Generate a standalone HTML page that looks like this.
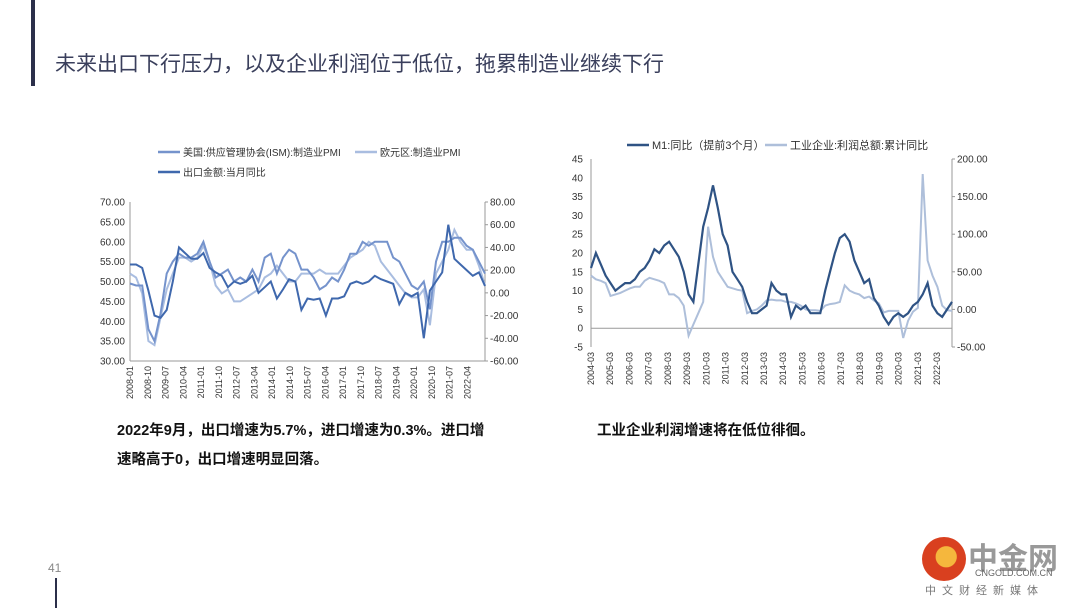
<!DOCTYPE html>
<html><head><meta charset="utf-8">
<style>
body{margin:0;width:1080px;height:608px;background:#fff;position:relative;overflow:hidden;font-family:"Liberation Sans","Noto Sans CJK SC",sans-serif}
.abs{position:absolute}
</style></head><body>
<div class="abs" style="left:31px;top:0;width:4px;height:86px;background:#2b2f4a"></div>
<div class="abs" style="left:55px;top:48px;font-size:21px;color:#3a3f5c;white-space:nowrap">未来出口下行压力，以及企业利润位于低位，拖累制造业继续下行</div>
<div class="abs" style="left:117px;top:417px;width:372px;font-size:14.5px;font-weight:bold;line-height:29px;color:#111">2022年9月，出口增速为5.7%，进口增速为0.3%。进口增速略高于0，出口增速明显回落。</div>
<div class="abs" style="left:597px;top:417px;font-size:14.5px;font-weight:bold;line-height:29px;color:#111">工业企业利润增速将在低位徘徊。</div>
<div class="abs" style="left:48px;top:561px;font-size:12px;color:#888">41</div>
<div class="abs" style="left:55px;top:578px;width:2px;height:30px;background:#2b2f4a"></div>
<div class="abs" style="left:922px;top:537px;width:44px;height:44px;border-radius:50%;background:radial-gradient(circle at 55% 45%,#f5b73d 0 30%,#d9401f 32%)"></div>
<div class="abs" style="left:968px;top:534px;font-size:30px;font-weight:bold;color:#999">中金网</div>
<div class="abs" style="left:975px;top:568px;font-size:9px;color:#666">CNGOLD.COM.CN</div>
<div class="abs" style="left:925px;top:582px;font-size:11px;letter-spacing:6px;color:#777">中文财经新媒体</div>

<svg class="abs" style="left:0;top:0" width="1080" height="608" id="svg" font-family="Liberation Sans, Noto Sans CJK SC, sans-serif"></svg>
<script>
// Left chart data (quarterly, 2008Q1-2022Q3)
const usIsm=[49.5,49,49,38,35,42,52,55,57,56,56,57,60,55,51,52,53,50,51,50,53,50,56,57,52,56,58,57,53,53,51,48,49,51,50,53,57,57,60,59,60,60,60,56,55,52,49,48,50,43,55,60,60,61,61,59,58,55,52];
const euPmi=[52,51,47,35,34,41,48,52,56,56,55,56,59,55,49,47,48,45,45,46,47,48,51,52,54,52,50,50,52,52,52,53,52,52,52,54,56,57,58,60,59,55,53,51,49,47,46,46,48,39,52,55,58,63,60,58,58,54,49];
const exportsYoY=[25,25,22,2,-20,-22,-15,10,40,35,30,30,35,22,18,15,5,10,8,10,15,0,5,10,-5,3,12,10,-15,-5,-6,-5,-20,-5,-5,-3,8,10,8,10,15,12,10,8,-10,0,-3,0,-40,2,10,18,60,30,25,20,15,18,6];
const leftLTicks=["30.00","35.00","40.00","45.00","50.00","55.00","60.00","65.00","70.00"];
const leftRTicks=["-60.00","-40.00","-20.00","0.00","20.00","40.00","60.00","80.00"];
const leftCats=["2008-01","2008-10","2009-07","2010-04","2011-01","2011-10","2012-07","2013-04","2014-01","2014-10","2015-07","2016-04","2017-01","2017-10","2018-07","2019-04","2020-01","2020-10","2021-07","2022-04"];
// Right chart data (quarterly, 2004Q1-2022Q3)
const m1=[16,20,17,14,12,10,11,12,12,13,15,16,18,21,20,22,23,21,19,15,9,7,17,27,32,38,32,25,22,15,13,11,7,4,4,5,6,12,10,9,9,3,6,5,6,4,4,4,10,15,20,24,25,23,18,15,12,13,8,6,3,1,3,4,3,4,6,7,9,12,6,4,3,5,7];
const profits=[45,40,38,35,18,20,22,25,28,30,30,38,42,40,38,35,20,20,15,5,-35,-20,-5,10,110,70,50,40,30,28,26,25,-5,-2,0,5,12,13,12,12,10,10,8,5,0,-1,-1,-2,5,7,8,10,32,25,22,20,15,17,12,8,-4,-2,-2,-2,-38,-15,-3,2,180,65,45,30,5,-1,-2];
const rightLTicks=["-5","0","5","10","15","20","25","30","35","40","45"];
const rightRTicks=["-50.00","0.00","50.00","100.00","150.00","200.00"];
const rightCats=["2004-03","2005-03","2006-03","2007-03","2008-03","2009-03","2010-03","2011-03","2012-03","2013-03","2014-03","2015-03","2016-03","2017-03","2018-03","2019-03","2020-03","2021-03","2022-03"];

const svg=document.getElementById('svg');const NS='http://www.w3.org/2000/svg';
function mk(t,a,txt){const e=document.createElementNS(NS,t);for(const k in a)e.setAttribute(k,a[k]);if(txt!==undefined)e.textContent=txt;svg.appendChild(e);return e;}
function lin(d0,d1,r0,r1){return v=>r0+(v-d0)/(d1-d0)*(r1-r0);}
function path(vals,x,y){return vals.map((v,i)=>(i?'L':'M')+x(i).toFixed(1)+','+y(v).toFixed(1)).join('');}

// LEFT
{const X0=130,X1=485,Y0=361,Y1=202;
const x=lin(0,usIsm.length-1,X0,X1),yl=lin(30,70,Y0,Y1),yr=lin(-60,80,Y0,Y1);
let e=mk('line',{x1:X0,y1:Y1,x2:X0,y2:Y0,stroke:'#999'});
e=mk('line',{x1:X0,y1:Y0,x2:X1,y2:Y0,stroke:'#999'});
e=mk('line',{x1:X1,y1:Y1,x2:X1,y2:Y0,stroke:'#999'});
leftLTicks.forEach(t=>{e=mk('text',{x:X0-5,y:yl(+t)+3.5,'font-size':10,'text-anchor':'end',fill:'#333'},t);});
leftRTicks.forEach(t=>{mk('line',{x1:X1,y1:yr(+t),x2:X1+3,y2:yr(+t),stroke:'#999'});e=mk('text',{x:X1+5,y:yr(+t)+3.5,'font-size':10,fill:'#333'},t);});
const cx=lin(0,leftCats.length,X0,X1);
leftCats.forEach((c,i)=>{const xx=cx(i)+3;e=mk('text',{x:xx,y:Y0+5,'font-size':9,'text-anchor':'end',fill:'#333',transform:`rotate(-90 ${xx} ${Y0+5})`},c);});
e=mk('path',{d:path(euPmi,x,yl),fill:'none',stroke:'#a9bde0','stroke-width':2});
e=mk('path',{d:path(usIsm,x,yl),fill:'none',stroke:'#7593cc','stroke-width':2});
e=mk('path',{d:path(exportsYoY,x,yr),fill:'none',stroke:'#3f68ad','stroke-width':2});
const lg=[[158,152,'#7593cc','美国:供应管理协会(ISM):制造业PMI'],[355,152,'#a9bde0','欧元区:制造业PMI'],[158,172,'#3f68ad','出口金额:当月同比']];
lg.forEach(l=>{e=mk('line',{x1:l[0],y1:l[1],x2:l[0]+22,y2:l[1],stroke:l[2],'stroke-width':2.5});
e=mk('text',{x:l[0]+25,y:l[1]+4,'font-size':10,fill:'#333'},l[3]);});
}
// RIGHT
{const X0=591,X1=952,Y0=347,Y1=159;
const x=lin(0,m1.length-1,X0,X1),yl=lin(-5,45,Y0,Y1),yr=lin(-50,200,Y0,Y1);
let e=mk('line',{x1:X0,y1:Y1,x2:X0,y2:Y0,stroke:'#999'});
e=mk('line',{x1:X0,y1:yl(0),x2:X1,y2:yl(0),stroke:'#999'});
e=mk('line',{x1:X1,y1:Y1,x2:X1,y2:Y0,stroke:'#999'});
rightLTicks.forEach(t=>{e=mk('text',{x:X0-8,y:yl(+t)+3.5,'font-size':10,'text-anchor':'end',fill:'#333'},t);});
rightRTicks.forEach(t=>{mk('line',{x1:X1,y1:yr(+t),x2:X1+3,y2:yr(+t),stroke:'#999'});e=mk('text',{x:X1+5,y:yr(+t)+3.5,'font-size':10,fill:'#333'},t);});
const cx=lin(0,rightCats.length-1,X0,937);
rightCats.forEach((c,i)=>{const xx=cx(i)+3;e=mk('text',{x:xx,y:Y0+5,'font-size':9,'text-anchor':'end',fill:'#333',transform:`rotate(-90 ${xx} ${Y0+5})`},c);});
e=mk('path',{d:path(profits,x,yr),fill:'none',stroke:'#aebfda','stroke-width':2});
e=mk('path',{d:path(m1,x,yl),fill:'none',stroke:'#2f5384','stroke-width':2.2});
const lg=[[627,145,'#2f5384','M1:同比（提前3个月）'],[765,145,'#aebfda','工业企业:利润总额:累计同比']];
lg.forEach(l=>{e=mk('line',{x1:l[0],y1:l[1],x2:l[0]+22,y2:l[1],stroke:l[2],'stroke-width':2.5});
e=mk('text',{x:l[0]+25,y:l[1]+4,'font-size':11,fill:'#333'},l[3]);});
}
</script>
</body></html>
